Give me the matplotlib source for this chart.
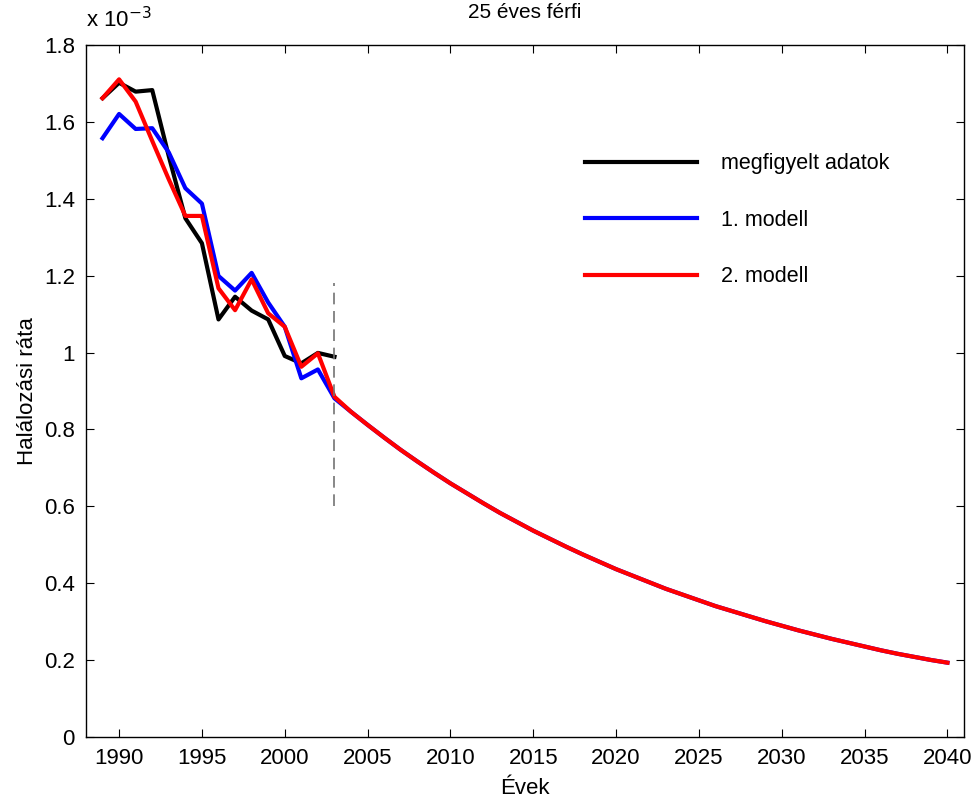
import numpy as np
import matplotlib as mpl
mpl.use('agg')
import matplotlib.pyplot as plt

plt.rcParams['font.family'] = ['Liberation Sans', 'DejaVu Sans']

# observed period, rates in units of 1e-3
obs_years = np.arange(1989, 2004)
observed = [1.661, 1.701, 1.678, 1.682, 1.510, 1.349, 1.284, 1.086, 1.145,
            1.109, 1.086, 0.991, 0.972, 0.999, 0.989]
model1_fit = [1.557, 1.620, 1.581, 1.583, 1.520, 1.427, 1.387, 1.199, 1.161,
              1.207, 1.130, 1.067, 0.933, 0.956, 0.881]
model2_fit = [1.661, 1.710, 1.652, 1.550, 1.450, 1.355, 1.355, 1.167, 1.110,
              1.190, 1.102, 1.067, 0.963, 0.998, 0.885]

# forecast 2004-2040 (both models coincide)
fc_years = np.arange(2004, 2041)
forecast = [0.846, 0.812, 0.779, 0.747, 0.717, 0.688, 0.660, 0.634, 0.608,
            0.583, 0.560, 0.537, 0.516, 0.495, 0.475, 0.456, 0.437, 0.420,
            0.403, 0.386, 0.371, 0.356, 0.341, 0.328, 0.315, 0.302, 0.290,
            0.278, 0.267, 0.256, 0.246, 0.236, 0.226, 0.217, 0.209, 0.201,
            0.194]

cut_year = 2003
cut_range = [0.6, 1.18]

m1_years = np.concatenate((obs_years, fc_years))
m1 = np.concatenate((model1_fit, forecast))
m2 = np.concatenate((model2_fit, forecast))

fig = plt.figure(figsize=(9.79, 8.01), dpi=100)
ax = fig.add_axes([0.0878, 0.0795, 0.8969, 0.8647])

ax.plot(obs_years, observed, '-', color='k', linewidth=3, label='megfigyelt adatok')
ax.plot(m1_years, m1, '-', color='#0000ff', linewidth=3, label='1. modell')
ax.plot(m1_years, m2, '-', color='#ff0000', linewidth=3, label='2. modell')
ax.plot([cut_year, cut_year], cut_range, color='0.45', linewidth=1.2,
        dashes=(7, 4))

ax.set_xlim(1988, 2041)
ax.set_ylim(0, 1.8)
ax.set_xticks(np.arange(1990, 2041, 5))
ax.set_yticks(np.arange(0, 1.81, 0.2))
ax.set_yticklabels(['%g' % round(v, 1) for v in np.arange(0, 1.81, 0.2)])
ax.tick_params(direction='in', length=6, width=0.8, labelsize=16,
               top=True, right=True, pad=8)
for s in ax.spines.values():
    s.set_linewidth(1.0)

ax.set_title('25 éves férfi', fontsize=15, pad=19)
ax.set_xlabel('Évek', fontsize=16, labelpad=6)
ax.set_ylabel('Halálozási ráta', fontsize=16, labelpad=4)
ax.text(0.0, 1.018, r'x 10$^{-3}$', transform=ax.transAxes, fontsize=16,
        ha='left', va='bottom')

ax.legend(loc='upper left', bbox_to_anchor=(0.568, 0.843), frameon=False,
          fontsize=15.5, handlelength=5.2, handletextpad=1.15,
          labelspacing=1.65, borderpad=0, borderaxespad=0)

fig.savefig('out.png', dpi=100)
